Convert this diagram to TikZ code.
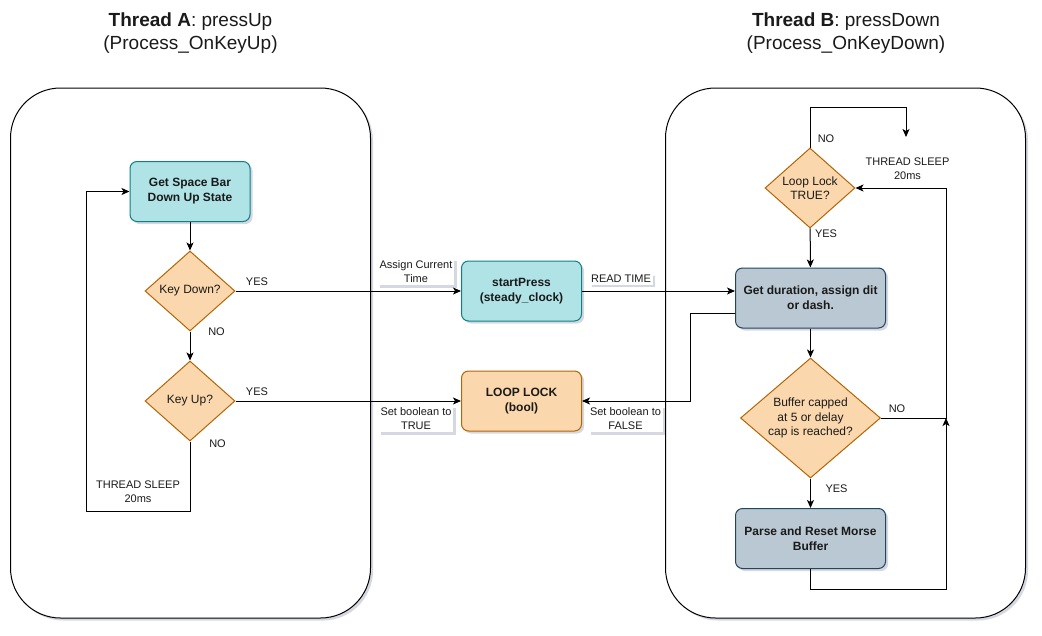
\documentclass[tikz,border=0pt]{standalone}
\usepackage{fontspec}
\setmainfont{Liberation Sans}
\usepackage{xcolor}
\usetikzlibrary{arrows.meta,shapes.geometric,positioning,calc,shadows}

\definecolor{tealfill}{HTML}{B0E3E6}
\definecolor{tealline}{HTML}{0E8088}
\definecolor{orangefill}{HTML}{FAD7AC}
\definecolor{orangeline}{HTML}{B46504}
\definecolor{slatefill}{HTML}{BAC8D3}
\definecolor{slateline}{HTML}{23445D}
\definecolor{shadowcol}{HTML}{8A8FA8}
\definecolor{txt}{HTML}{1A1A1A}

\tikzset{
    softshadow/.style={drop shadow={shadow xshift=2.5pt, shadow yshift=-2.5pt, opacity=0.35, fill=shadowcol}},
    container/.style={rectangle, draw, line width=1pt, rounded corners=50pt, fill=white,
        minimum width=360pt, minimum height=530pt, softshadow},
    procbox/.style={rectangle, rounded corners=7pt, line width=1pt, minimum width=120pt,
        minimum height=60pt, align=center, font=\fontsize{12}{15}\selectfont\bfseries, softshadow},
    tealbox/.style={procbox, draw=tealline, fill=tealfill},
    orangebox/.style={procbox, draw=orangeline, fill=orangefill},
    slatebox/.style={procbox, draw=slateline, fill=slatefill, minimum width=150pt},
    decision/.style={diamond, aspect=1.125, inner sep=0pt, draw=orangeline, fill=orangefill,
        line width=1pt, minimum width=90pt, minimum height=80pt, align=center,
        font=\fontsize{12}{14.3}\selectfont},
    title/.style={align=center, font=\fontsize{19}{23}\selectfont},
    lbl/.style={align=center, inner sep=1pt, font=\fontsize{11}{14}\selectfont},
    edgelbl/.style={lbl, fill=white, inner sep=2pt, softshadow},
    flow/.style={draw, line width=1pt, -{Stealth[length=8pt, width=7pt, inset=2pt]}}
}

\begin{document}
\begin{tikzpicture}[x=1pt, y=-1pt, every node/.append style={text=txt}]
    \useasboundingbox (0,0) rectangle (1042,635);

    % Thread containers and titles
    \node[container] (threadA) at (190.5,353) {};
    \node[container] (threadB) at (845.5,353) {};
    \node[title] (titleA) at (190.5,33) {\textbf{Thread A}: pressUp\\(Process\_OnKeyUp)};
    \node[title] (titleB) at (846,33) {\textbf{Thread B}: pressDown\\(Process\_OnKeyDown)};

    % Thread A flow
    \node[tealbox] (getstate) at (190,191.5) {Get Space Bar\\Down Up State};
    \node[decision] (keydown) at (190,291) {Key Down?};
    \node[decision] (keyup) at (190,401) {Key Up?};
    \coordinate (sleepA) at (86,511);

    % Shared data
    \node[tealbox] (startpress) at (521.5,291) {startPress\\(steady\_clock)};
    \node[orangebox] (looplock) at (521.5,401) {LOOP LOCK\\(bool)};

    % Thread B flow
    \node[decision] (looptrue) at (810,188) {Loop Lock\\TRUE?};
    \node[slatebox] (getdur) at (810.5,298) {Get duration, assign dit\\or dash.};
    \node[decision, aspect=1.17, minimum width=140pt, minimum height=120pt] (buffer) at (810.5,418)
        {Buffer capped\\at 5 or delay\\cap is reached?};
    \node[slatebox] (parse) at (810.5,538.5) {Parse and Reset Morse\\Buffer};
    \coordinate (sleepB) at (906,137);
    \coordinate (joinB) at (946,418);
    \coordinate (backB) at (690,401);

    % Connectors
    \draw[flow] (getstate) -- (keydown);
    \draw[flow] (keydown) -- (keyup);
    \draw[flow] (keyup.south) |- (sleepA) |- (getstate.west);
    \draw[flow] (keydown) -- (startpress);
    \draw[flow] (keyup) -- (looplock);
    \draw[flow] (startpress) -- (startpress -| getdur.west);
    \draw[flow] ([yshift=-15pt]getdur.west) -| (backB) -- (looplock);
    \draw[flow] (looptrue.north) -- ++(0,-40) -| (sleepB);
    \draw[flow] (looptrue) -- (getdur);
    \draw[flow] (getdur) -- (buffer);
    \draw[flow] (buffer) -- (parse);
    \draw[flow] (buffer.east) -- (joinB) |- (looptrue.east);
    \draw[flow] (parse.south) -- ++(0,20) -| (joinB);

    % Branch labels
    \foreach \x/\y/\txt [count=\i] in {216.5/332/NO, 217.5/444/NO, 257/282/YES, 257/392/YES,
        826/139/NO, 826/234/YES, 897/409/NO, 836.5/489/YES} {
        \node[lbl] (flag\i) at (\x,\y) {\txt};
    }
    \node[lbl] (sleepAlbl) at (138,492) {THREAD SLEEP\\20ms};
    \node[lbl] (sleepBlbl) at (907.5,169) {THREAD SLEEP\\20ms};

    % Edge labels
    \node[edgelbl] (assign) at (416,272) {Assign Current\\Time};
    \node[edgelbl] (readtime) at (621,279) {READ TIME};
    \node[edgelbl] (settrue) at (416,419) {Set boolean to\\TRUE};
    \node[edgelbl] (setfalse) at (625.5,419) {Set boolean to\\FALSE};
\end{tikzpicture}
\end{document}
